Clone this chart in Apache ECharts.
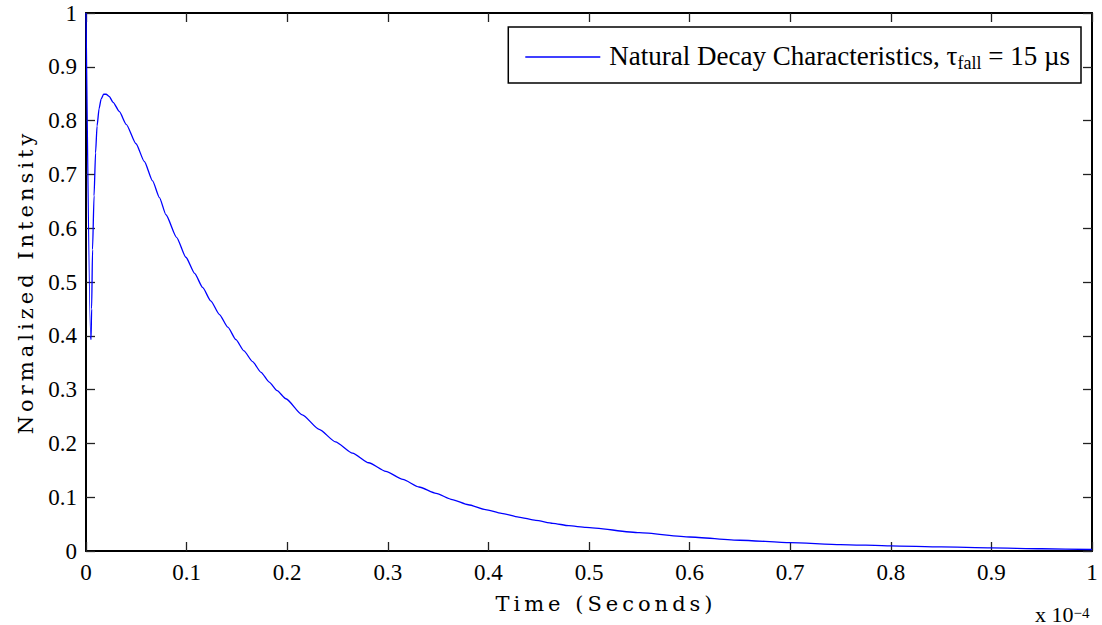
<!DOCTYPE html>
<html><head><meta charset="utf-8">
<script src="https://cdn.jsdelivr.net/npm/echarts@6/dist/echarts.min.js"></script>
<style>html,body{margin:0;padding:0;background:#fff}#c{width:1102px;height:625px}</style>
</head><body><div id="c"></div>
<script>
// time in units of 1e-4 s (axis shows "x 10^-4")
const timeE4 = [0, 0.0045, 0.0050, 0.0056, 0.0065, 0.0080, 0.0095, 0.0110, 0.0130, 0.0150, 0.0175, 0.0200, 0.0230, 0.0270,
  0.0331, 0.0400, 0.0497, 0.0580, 0.0662, 0.0730, 0.0795, 0.0900, 0.0993, 0.1080, 0.1159, 0.1240, 0.1325, 0.1410,
  0.1490, 0.1570, 0.1656, 0.1740, 0.1821, 0.1900, 0.1987, 0.2150, 0.2318, 0.2480, 0.2649, 0.2810, 0.2980, 0.3150,
  0.3310, 0.3480, 0.3640, 0.3800, 0.3970, 0.4130, 0.4300, 0.4470, 0.4640, 0.4800, 0.4970, 0.55, 0.60, 0.65, 0.70,
  0.75, 0.80, 0.85, 0.90, 0.95, 1.00];
const intensity = [1.0, 0.400, 0.393, 0.45, 0.56, 0.66, 0.74, 0.790, 0.822, 0.840, 0.849, 0.849, 0.845, 0.834,
  0.817, 0.793, 0.757, 0.724, 0.688, 0.657, 0.625, 0.583, 0.546, 0.516, 0.490, 0.465, 0.440, 0.416,
  0.393, 0.372, 0.352, 0.332, 0.314, 0.298, 0.283, 0.253, 0.226, 0.203, 0.182, 0.164, 0.148, 0.133,
  0.119, 0.107, 0.0955, 0.086, 0.077, 0.070, 0.063, 0.057, 0.0515, 0.047, 0.044, 0.034, 0.026, 0.020, 0.0155,
  0.012, 0.0095, 0.0075, 0.0058, 0.0042, 0.0028];
const seriesName = 'Natural Decay Characteristics, τfall = 15 µs';
const xName = 'Time (Seconds)';
const yName = 'Normalized Intensity';
const xMultiplier = ['x 10', '−4'];

const points = timeE4.map((t, i) => [t, intensity[i]]);
const serif = 'Liberation Serif';
const nameFont = 'DejaVu Serif';
const tickStyle = { show: true, inside: true, length: 9, lineStyle: { color: '#222', width: 1.3 } };
const axisLineStyle = { show: true, onZero: false, lineStyle: { color: '#000', width: 2 } };

const chart = echarts.init(document.getElementById('c'), null, { renderer: 'svg' });
chart.setOption({
  animation: false,
  backgroundColor: '#fff',
  grid: { left: 86, right: 10, top: 13, bottom: 74, containLabel: false },
  xAxis: [{
    type: 'value', min: 0, max: 1, interval: 0.1, position: 'bottom',
    name: xName, nameLocation: 'middle', nameGap: 42,
    nameTextStyle: { fontFamily: nameFont, fontSize: 21, color: '#000', padding: [0, 0, 0, 34] },
    axisLine: axisLineStyle, axisTick: tickStyle, splitLine: { show: false },
    axisLabel: { fontFamily: serif, fontSize: 23, color: '#000', margin: 10 }
  }, {
    type: 'value', min: 0, max: 1, interval: 0.1, position: 'top',
    axisLine: axisLineStyle, axisTick: tickStyle, splitLine: { show: false }, axisLabel: { show: false }
  }],
  yAxis: [{
    type: 'value', min: 0, max: 1, interval: 0.1, position: 'left',
    name: yName, nameLocation: 'middle', nameGap: 50,
    nameTextStyle: { fontFamily: nameFont, fontSize: 21, color: '#000' },
    axisLine: axisLineStyle, axisTick: tickStyle, splitLine: { show: false },
    axisLabel: { fontFamily: serif, fontSize: 23, color: '#000', margin: 9 }
  }, {
    type: 'value', min: 0, max: 1, interval: 0.1, position: 'right',
    axisLine: axisLineStyle, axisTick: tickStyle, splitLine: { show: false }, axisLabel: { show: false }
  }],
  legend: {
    data: [{ name: seriesName, icon: 'rect' }],
    right: 21, top: 27,
    padding: [11, 11, 11, 17],
    borderColor: '#000', borderWidth: 1.5, backgroundColor: '#fff',
    itemWidth: 75, itemHeight: 1.5,
    formatter: () => '{a0|Natural Decay Characteristics, τ}{sub|fall}{a| = 15 µs}',
    textStyle: {
      rich: {
        a0: { fontFamily: serif, fontSize: 27, color: '#000', lineHeight: 30, verticalAlign: 'top', padding: [0, 0, 0, 4] },
        a: { fontFamily: serif, fontSize: 27, color: '#000', lineHeight: 30, verticalAlign: 'top' },
        sub: { fontFamily: serif, fontSize: 18, color: '#000', lineHeight: 14, verticalAlign: 'bottom', padding: [16, 0, 0, 0] }
      }
    }
  },
  graphic: [{
    type: 'text', left: 1035, top: 596,
    style: {
      text: '{b|' + xMultiplier[0] + '}{sup|' + xMultiplier[1] + '}',
      rich: {
        b: { fontFamily: serif, fontSize: 22, fill: '#000', lineHeight: 20, verticalAlign: 'bottom', padding: [7, 0, 0, 0] },
        sup: { fontFamily: serif, fontSize: 15, fill: '#000', lineHeight: 14, verticalAlign: 'top' }
      }
    }
  }],
  series: [{
    name: seriesName, type: 'line', data: points,
    showSymbol: false, symbol: 'none',
    smooth: 0.2, smoothMonotone: 'x',
    lineStyle: { color: '#0000ff', width: 1.3 },
    itemStyle: { color: '#0000ff' }
  }]
});

function spaceNames() {
  document.querySelectorAll('#c text').forEach(el => {
    const t = el.textContent;
    if (t === xName || t === yName) el.style.letterSpacing = '4px';
  });
}
chart.on('finished', spaceNames);
setTimeout(spaceNames, 0);
</script></body></html>
